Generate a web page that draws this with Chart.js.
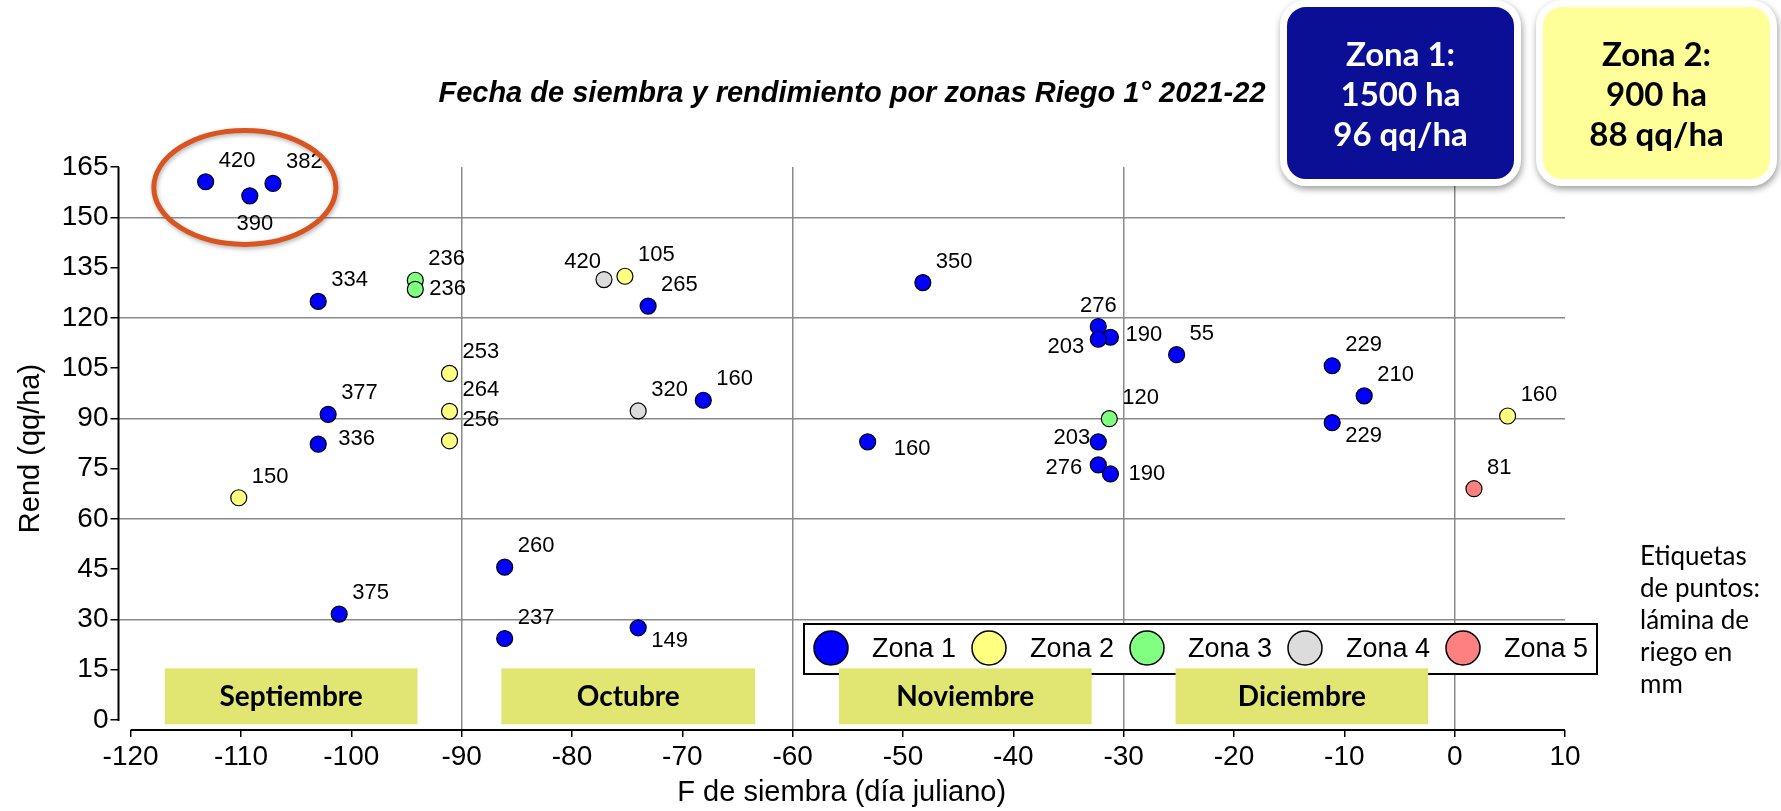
<!DOCTYPE html>
<html lang="es">
<head>
<meta charset="UTF-8" />
<title>Fecha de siembra y rendimiento por zonas Riego 1° 2021-22</title>
<script src="https://cdn.jsdelivr.net/npm/chart.js@4.4.0/dist/chart.umd.min.js"></script>
<style>
  body { margin: 0; background: #fff; }
  .wrap { position: relative; width: 1781px; height: 811px; overflow: hidden; }
  .wrap canvas { position: absolute; left: 0; top: 0; }
  .titulo {
    position: absolute; left: 352px; width: 1000px; top: 76px;
    text-align: center; line-height: 34px;
    font: italic bold 29px "Liberation Sans", Arial, sans-serif; color: #000;
  }
  .zona {
    position: absolute; top: 0; width: 227px; height: 172px;
    border: 7px solid #fff; border-radius: 26px;
    box-shadow: 1px 3px 7px rgba(0, 0, 0, 0.4);
    display: flex; flex-direction: column; justify-content: center;
    text-align: center; line-height: 44px;
    font: bold 33px Lato, "Open Sans", sans-serif;
  }
  .z1 { left: 1280px; background: #0b0f95; color: #fff; }
  .z2 { left: 1536px; background: #ffff99; color: #000; }
  .nota {
    position: absolute; left: 1640px; top: 539px;
    line-height: 28.5px; font: 26px Lato, "Open Sans", sans-serif; color: #000;
  }
</style>
</head>
<body>
<div class="wrap">
  <canvas id="grafico"></canvas>
  <div class="titulo">Fecha de siembra y rendimiento por zonas Riego 1° 2021-22</div>
  <div class="zona z1"><div>Zona 1:</div><div>1500 ha</div><div>96 qq/ha</div></div>
  <div class="zona z2"><div>Zona 2:</div><div>900 ha</div><div>88 qq/ha</div></div>
  <div class="nota">Etiquetas<br>de puntos:<br>lámina de<br>riego en<br>mm</div>
</div>
<script>
// datos: fecha de siembra (x), rendimiento qq/ha (y), lámina de riego mm (etiqueta)
var zonas = ["Zona 1", "Zona 2", "Zona 3", "Zona 4", "Zona 5"];

var zona1X = [-113.2, -109.2, -107.1, -103.0, -102.1, -103.0, -101.1, -86.1, -86.1, -74.0, -73.1, -68.1,
              -53.2, -48.2, -32.3, -31.2, -32.3, -25.2, -11.1, -8.2, -11.1, -32.3, -32.3, -31.2];
var zona1Y = [160.6, 156.4, 160.1, 124.9, 91.2, 82.3, 31.6, 45.6, 24.3, 27.5, 123.5, 95.4,
              83.0, 130.5, 117.4, 114.2, 113.6, 109.0, 105.7, 96.7, 88.7, 83.0, 76.1, 73.4];
var zona1Lam = [420, 390, 382, 334, 377, 336, 375, 260, 237, 149, 265, 160,
                160, 350, 276, 190, 203, 55, 229, 210, 229, 203, 276, 190];

var zona2X = [-110.2, -91.1, -91.1, -91.1, -75.2, 4.8];
var zona2Y = [66.3, 103.4, 92.1, 83.3, 132.4, 90.7];
var zona2Lam = [150, 253, 264, 256, 105, 160];

var zona3X = [-94.2, -94.2, -31.3];
var zona3Y = [131.2, 128.5, 89.9];
var zona3Lam = [236, 236, 120];

var zona4X = [-77.1, -74.0];
var zona4Y = [131.4, 92.2];
var zona4Lam = [420, 320];

var zona5X = [1.75];
var zona5Y = [69.0];
var zona5Lam = [81];

var ticksX = [-120, -110, -100, -90, -80, -70, -60, -50, -40, -30, -20, -10, 0, 10];
var ticksY = [0, 15, 30, 45, 60, 75, 90, 105, 120, 135, 150, 165];

var meses = ["Septiembre", "Octubre", "Noviembre", "Diciembre"];

// estilo y ubicacion (no son datos)
var colores = ["#0000ff", "#ffff80", "#80ff80", "#dcdcdc", "#ff8080"];
var mesesDesde = [-116.9, -86.4, -55.8, -25.3];
var mesesHasta = [-94.0, -63.4, -32.9, -2.4];
var posEtiquetas = [
  ["ne", "s", "ne", "ne", "ne", "e2", "ne", "ne", "ne", "se", "ne", "ne",
   "e3", "ne", "n", "e5", "w2", "ne", "ne", "ne", "se", "w4", "w3", "e4"],
  ["ne", "ne", "ne", "ne", "ne", "ne"],
  ["ne", "e", "ne"],
  ["nw", "ne"],
  ["ne"]
];
var lugar = {
  ne: [13, -21, "left"], e: [14, 0, "left"], se: [13, 13, "left"],
  nw: [-3, -18, "right"], n: [0, -21, "center"], s: [5, 28, "center"],
  w: [-10, 0, "right"], e2: [20, -5, "left"], e3: [26, 7, "left"],
  e4: [18, 0, "left"], e5: [15, -2, "left"], w2: [-14, 8, "right"],
  w3: [-16, 3, "right"], w4: [-8, -4, "right"]
};

var xs = [zona1X, zona2X, zona3X, zona4X, zona5X];
var ys = [zona1Y, zona2Y, zona3Y, zona4Y, zona5Y];
var lams = [zona1Lam, zona2Lam, zona3Lam, zona4Lam, zona5Lam];

var FUENTE = '"Liberation Sans", Arial, sans-serif';

var datasets = zonas.map(function (nombre, i) {
  return {
    label: nombre,
    data: xs[i].map(function (x, j) { return { x: x, y: ys[i][j] }; }),
    backgroundColor: colores[i],
    borderColor: "#000",
    pointRadius: 8,
    pointHoverRadius: 8,
    pointBorderWidth: 1.2,
    order: 5 - i
  };
});

var decorado = {
  id: "decorado",
  afterDraw: function (chart) {
    var ctx = chart.ctx;
    var sx = chart.scales.x, sy = chart.scales.y, area = chart.chartArea;
    ctx.save();

    // ejes separados
    ctx.strokeStyle = "#000";
    ctx.lineWidth = 2;
    ctx.beginPath();
    ctx.moveTo(area.left, sy.getPixelForValue(0) + 1);
    ctx.lineTo(area.left, sy.getPixelForValue(165));
    ctx.moveTo(sx.getPixelForValue(-120), area.bottom);
    ctx.lineTo(sx.getPixelForValue(10), area.bottom);
    ctx.stroke();

    // etiquetas de puntos
    ctx.fillStyle = "#000";
    ctx.font = "22px " + FUENTE;
    ctx.textBaseline = "middle";
    zonas.forEach(function (z, i) {
      var meta = chart.getDatasetMeta(i);
      meta.data.forEach(function (pt, j) {
        var p = lugar[posEtiquetas[i][j]];
        ctx.textAlign = p[2];
        ctx.fillText(String(lams[i][j]), pt.x + p[0], pt.y + p[1]);
      });
    });

    // leyenda
    var lx = 804, ly = 624, lw = 793, lh = 50;
    ctx.fillStyle = "#fff";
    ctx.fillRect(lx, ly, lw, lh);
    ctx.strokeStyle = "#000";
    ctx.lineWidth = 2;
    ctx.strokeRect(lx, ly, lw, lh);
    ctx.font = "27px " + FUENTE;
    ctx.textAlign = "left";
    zonas.forEach(function (z, i) {
      var cx = lx + 27 + i * 158;
      ctx.beginPath();
      ctx.arc(cx, ly + 24, 17, 0, Math.PI * 2);
      ctx.fillStyle = colores[i];
      ctx.fill();
      ctx.lineWidth = 1.5;
      ctx.stroke();
      ctx.fillStyle = "#000";
      ctx.fillText(z, cx + 41, ly + 26);
    });

    // meses
    meses.forEach(function (m, i) {
      var x0 = sx.getPixelForValue(mesesDesde[i]);
      var x1 = sx.getPixelForValue(mesesHasta[i]);
      var y0 = sy.getPixelForValue(15.4);
      var y1 = sy.getPixelForValue(-1.3);
      ctx.fillStyle = "#e1e673";
      ctx.fillRect(x0, y0, x1 - x0, y1 - y0);
      ctx.fillStyle = "#000";
      ctx.font = "bold 28px Lato, sans-serif";
      ctx.textAlign = "center";
      ctx.fillText(m, (x0 + x1) / 2, (y0 + y1) / 2 + 1);
    });

    // elipse que marca el grupo de mayor rendimiento
    var ex = sx.getPixelForValue(-109.65), ey = sy.getPixelForValue(158.9);
    var rx = sx.getPixelForValue(-109.65 + 8.25) - ex;
    var ry = ey - sy.getPixelForValue(158.9 + 17);
    ctx.shadowColor = "rgba(0,0,0,0.3)";
    ctx.shadowBlur = 4;
    ctx.shadowOffsetX = 1;
    ctx.shadowOffsetY = 2;
    ctx.strokeStyle = "#d9541f";
    ctx.lineWidth = 5;
    ctx.beginPath();
    ctx.ellipse(ex, ey, rx, ry, 0, 0, Math.PI * 2);
    ctx.stroke();
    ctx.restore();
  }
};

function colorGrillaX(c) {
  var v = c.tick ? c.tick.value : null;
  return (v !== null && v > -120 && v < 10 && v % 30 === 0) ? "#8a8a8a" : "rgba(0,0,0,0)";
}
function colorGrillaY(c) {
  var v = c.tick ? c.tick.value : null;
  return (v !== null && v > 0 && v < 165 && v % 30 === 0) ? "#8a8a8a" : "rgba(0,0,0,0)";
}

new Chart(document.getElementById("grafico"), {
  type: "scatter",
  data: { datasets: datasets },
  options: {
    responsive: true,
    maintainAspectRatio: false,
    animation: false,
    layout: { padding: { top: 167, right: 216, bottom: 0, left: 0 } },
    plugins: { legend: { display: false }, tooltip: { enabled: false } },
    scales: {
      x: {
        type: "linear",
        min: -121.1,
        max: 10,
        afterBuildTicks: function (s) { s.ticks = ticksX.map(function (v) { return { value: v }; }); },
        afterFit: function (s) { s.height = 81; },
        border: { display: false },
        grid: { color: colorGrillaX, lineWidth: 1.5, tickLength: 7, tickColor: "#000", tickWidth: 1.5 },
        ticks: { color: "#000", font: { family: FUENTE, size: 28 }, padding: 3, maxRotation: 0, autoSkip: false },
        title: { display: true, text: "F de siembra (día juliano)", color: "#000",
                 font: { family: FUENTE, size: 29 }, padding: { top: 0, bottom: 1 } }
      },
      y: {
        type: "linear",
        min: -3,
        max: 165,
        afterBuildTicks: function (s) { s.ticks = ticksY.map(function (v) { return { value: v }; }); },
        afterFit: function (s) { s.width = 118.5; },
        border: { display: false },
        grid: { color: colorGrillaY, lineWidth: 1.5, tickLength: 8, tickColor: "#000", tickWidth: 1.5 },
        ticks: { color: "#000", font: { family: FUENTE, size: 28 }, padding: 2, autoSkip: false },
        title: { display: true, text: "Rend (qq/ha)", color: "#000",
                 font: { family: FUENTE, size: 29 }, padding: { top: 14, bottom: 0 } }
      }
    }
  },
  plugins: [decorado]
});
</script>
</body>
</html>
